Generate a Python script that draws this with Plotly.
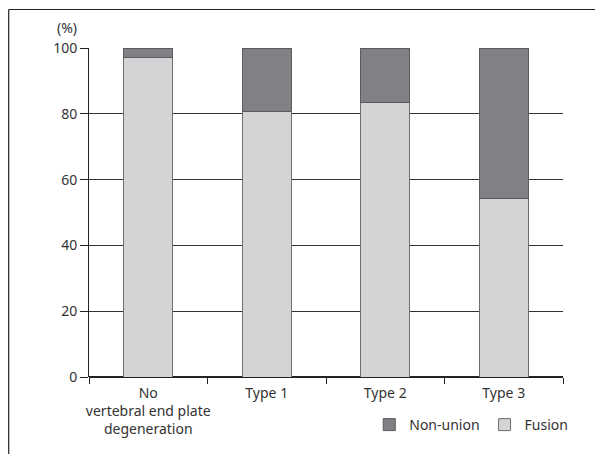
import plotly.graph_objects as go

categories = ["No<br>vertebral end plate<br>degeneration", "Type 1", "Type 2", "Type 3"]
fusion = [97.0, 80.8, 83.5, 54.3]
non_union = [3.0, 19.2, 16.5, 45.7]
y_ticks = [0, 20, 40, 60, 80, 100]

FONT = "Noto Sans"
fig = go.Figure()
fig.add_trace(go.Bar(x=categories, y=fusion, name="Fusion",
                     marker=dict(color="#d3d4d6", line=dict(color="#6d6e70", width=1))))
fig.add_trace(go.Bar(x=categories, y=non_union, name="Non-union",
                     marker=dict(color="#808184", line=dict(color="#5a5b5d", width=1))))

# page body has an 8px margin, so the figure is drawn offset by (8, 8)
W, H = 595, 446
L, R, T, B = 81, 40, 40, 77
pw = W - L - R
ph = H - T - B

fig.update_layout(
    width=W, height=H, barmode="stack", bargap=0.59,
    margin=dict(l=L, r=R, t=T, b=B, autoexpand=False),
    paper_bgcolor="white", plot_bgcolor="white",
    font=dict(family=FONT, size=14, color="#333"),
    legend=dict(orientation="h", traceorder="reversed", xref="container", yref="container",
                x=0.95, xanchor="right", y=0.065, yanchor="middle", font=dict(size=14),
                itemwidth=30),
    xaxis=dict(showgrid=False, ticks="outside", tickson="boundaries", ticklen=6,
               tickcolor="#222", showline=False, tickfont=dict(size=14), tickangle=0,
               ticklabelstandoff=6, automargin=False),
    yaxis=dict(range=[0, 100], tickvals=y_ticks, showgrid=True, gridcolor="#333",
               gridwidth=1, showline=True, linecolor="#222", ticks="outside",
               ticklen=8, tickcolor="#222", zeroline=True, zerolinecolor="#222",
               tickfont=dict(size=14), automargin=False),
    showlegend=True,
)

# frame lines (top and left)
fig.add_shape(type="line", xref="paper", yref="paper",
              x0=(0.7 - L) / pw, x1=(W - L) / pw, y0=(H - 1.5 - B) / ph, y1=(H - 1.5 - B) / ph,
              line=dict(color="#222", width=1.2))
fig.add_shape(type="line", xref="paper", yref="paper",
              x0=(0.7 - L) / pw, x1=(0.7 - L) / pw, y0=(H - 1.5 - B) / ph, y1=-B / ph,
              line=dict(color="#222", width=1.2))

fig.add_annotation(text="(%)", xref="paper", yref="paper",
                   x=(59 - L) / pw, y=(H - 19 - B) / ph, showarrow=False,
                   xanchor="center", yanchor="middle", font=dict(size=14))

fig.write_html("out.html")
